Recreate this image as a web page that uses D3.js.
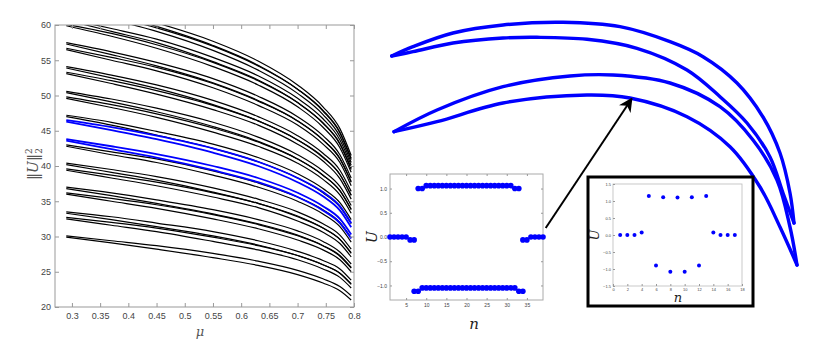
<!DOCTYPE html>
<html>
<head>
<meta charset="utf-8">
<script src="https://cdn.jsdelivr.net/npm/d3@7"></script>
<style>
  body { margin: 0; background: #fff; }
  svg { display: block; font-family: "Liberation Sans", Arial, sans-serif; }
</style>
</head>
<body>
<svg width="830" height="345"></svg>
<script>
// ---- left panel: ||U||^2 against mu ----
const muGrid = [0.29, 0.37, 0.45, 0.55, 0.63, 0.7, 0.745, 0.775, 0.795];

const blackCurves = [
  [30.1, 29.4, 28.7, 27.6, 26.5, 25.2, 24.0, 22.9, 21.6], [29.9, 29.1, 28.2, 27.0, 25.9, 24.6, 23.4, 22.3, 21.0],
  [32.7, 32.0, 31.2, 29.9, 28.7, 27.3, 26.0, 24.8, 23.3], [32.5, 31.6, 30.7, 29.3, 28.1, 26.7, 25.4, 24.2, 22.7],
  [33.5, 32.8, 31.9, 30.7, 29.4, 27.9, 26.6, 25.4, 23.8], [33.3, 32.4, 31.4, 30.1, 28.8, 27.3, 26.0, 24.8, 23.2],
  [36.2, 35.4, 34.5, 33.1, 31.7, 30.1, 28.7, 27.3, 25.6], [36.0, 35.0, 34.0, 32.5, 31.1, 29.5, 28.1, 26.7, 25.0],
  [37.0, 36.2, 35.2, 33.8, 32.4, 30.8, 29.3, 27.8, 26.1], [36.8, 35.8, 34.7, 33.2, 31.8, 30.2, 28.7, 27.2, 25.5],
  [39.6, 38.7, 37.7, 36.2, 34.7, 32.8, 31.2, 29.6, 27.7], [39.4, 38.3, 37.2, 35.6, 34.1, 32.2, 30.6, 29.0, 27.1],
  [40.4, 39.5, 38.5, 36.9, 35.3, 33.5, 31.8, 30.2, 28.2], [40.2, 39.1, 38.0, 36.3, 34.7, 32.9, 31.2, 29.6, 27.6],
  [43.0, 42.0, 41.0, 39.3, 37.6, 35.6, 33.8, 32.0, 29.8], [42.8, 41.6, 40.5, 38.7, 37.0, 35.0, 33.2, 31.4, 29.2],
  [47.2, 46.2, 44.9, 43.1, 41.2, 38.9, 36.8, 34.8, 32.4], [47.0, 45.8, 44.4, 42.5, 40.6, 38.3, 36.2, 34.2, 31.8],
  [49.8, 48.7, 47.4, 45.4, 43.4, 41.0, 38.7, 36.5, 33.9], [49.6, 48.3, 46.9, 44.8, 42.8, 40.4, 38.1, 35.9, 33.3],
  [50.6, 49.5, 48.2, 46.2, 44.1, 41.6, 39.3, 37.1, 34.4], [50.4, 49.1, 47.7, 45.6, 43.5, 41.0, 38.7, 36.5, 33.8],
  [53.3, 52.1, 50.7, 48.6, 46.4, 43.7, 41.3, 38.8, 35.9], [53.1, 51.7, 50.2, 48.0, 45.8, 43.1, 40.7, 38.2, 35.3],
  [54.1, 52.9, 51.5, 49.3, 47.0, 44.3, 41.8, 39.4, 36.4], [53.9, 52.5, 51.0, 48.7, 46.4, 43.7, 41.2, 38.8, 35.8],
  [56.7, 55.4, 54.0, 51.7, 49.2, 46.4, 43.7, 41.1, 37.8], [56.5, 55.0, 53.5, 51.1, 48.6, 45.8, 43.1, 40.5, 37.2],
  [57.5, 56.2, 54.7, 52.4, 49.9, 47.0, 44.3, 41.6, 38.3], [57.3, 55.8, 54.2, 51.8, 49.3, 46.4, 43.7, 41.0, 37.7],
  [60.1, 58.8, 57.2, 54.7, 52.1, 49.0, 46.1, 43.2, 39.7], [59.9, 58.4, 56.7, 54.1, 51.5, 48.4, 45.5, 42.6, 39.1],
  [60.9, 59.5, 58.0, 55.4, 52.8, 49.6, 46.7, 43.7, 40.1], [60.7, 59.1, 57.5, 54.8, 52.2, 49.0, 46.1, 43.1, 39.5],
  [62.6, 61.2, 59.6, 57.0, 54.2, 50.9, 47.9, 44.8, 41.1], [62.4, 60.8, 59.1, 56.4, 53.6, 50.3, 47.3, 44.2, 40.5],
  [63.4, 62.0, 60.3, 57.7, 54.9, 51.5, 48.4, 45.3, 41.5], [63.2, 61.6, 59.8, 57.1, 54.3, 50.9, 47.8, 44.7, 40.9]
];

const blueCurves = [
  [43.8, 42.8, 41.7, 40.0, 38.3, 36.2, 34.3, 32.5, 30.3], [43.6, 42.4, 41.2, 39.4, 37.7, 35.6, 33.7, 31.9, 29.7],
  [46.5, 45.5, 44.3, 42.5, 40.6, 38.3, 36.3, 34.3, 31.9], [46.3, 45.1, 43.8, 41.9, 40.0, 37.7, 35.7, 33.7, 31.3]
];

const muTicks = [0.3, 0.35, 0.4, 0.45, 0.5, 0.55, 0.6, 0.65, 0.7, 0.75, 0.8];
const normTicks = [20, 25, 30, 35, 40, 45, 50, 55, 60];

// ---- inset 1: profile with 39 sites ----
const inset1N = [
  1, 2, 3, 4, 5, 6, 7,
  8, 9, 10, 11, 12, 13, 14, 15, 16, 17, 18, 19, 20, 21, 22, 23, 24, 25, 26, 27, 28, 29, 30, 31, 32, 33,
  7, 8, 9, 10, 11, 12, 13, 14, 15, 16, 17, 18, 19, 20, 21, 22, 23, 24, 25, 26, 27, 28, 29, 30, 31, 32, 33, 34,
  34, 35, 36, 37, 38, 39
];
const inset1U = [
  0, 0, 0, 0, 0, -0.06, -0.06,
  1.0, 1.0, 1.06, 1.06, 1.06, 1.06, 1.06, 1.06, 1.06, 1.06, 1.06, 1.06, 1.06, 1.06, 1.06, 1.06, 1.06, 1.06, 1.06, 1.06, 1.06, 1.06, 1.06, 1.06, 1.0, 1.0,
  -1.12, -1.12, -1.05, -1.05, -1.05, -1.05, -1.05, -1.05, -1.05, -1.05, -1.05, -1.05, -1.05, -1.05, -1.05, -1.05, -1.05, -1.05, -1.05, -1.05, -1.05, -1.05, -1.05, -1.05, -1.05, -1.05, -1.12, -1.12,
  -0.06, -0.06, 0, 0, 0, 0
];
const inset1XTicks = [5, 10, 15, 20, 25, 30, 35];
const inset1YTicks = [-1, -0.5, 0, 0.5, 1];

// ---- inset 2: profile with 17 sites ----
const inset2N = [1, 2, 3, 4, 5, 6, 7, 8, 9, 10, 11, 12, 13, 14, 15, 16, 17];
const inset2U = [0, 0, 0, 0.07, 1.15, -0.9, 1.11, -1.08, 1.1, -1.08, 1.11, -0.9, 1.15, 0.07, 0, 0, 0];
const inset2XTicks = [0, 2, 4, 6, 8, 10, 12, 14, 16, 18];
const inset2YTicks = [-1.5, -1, -0.5, 0, 0.5, 1, 1.5];

// ---- right sketch: two horn-shaped branches (sketch units) ----
const hornTopOuter = [[6.7, 56], [28, 46.7], [68, 33], [118, 25], [178, 22.3], [235, 26.7], [285, 41.7], [318, 56.7], [352, 83], [378, 117], [395, 153], [405, 193], [409, 223]];
const hornTopInner = [[6.7, 56], [28, 51.7], [68, 43], [118, 38], [152, 37.3], [202, 39.3], [252, 48.3], [302, 70], [335, 96.7], [362, 123], [385, 157], [398, 193], [409, 223]];
const hornLowOuter = [[9, 131.7], [52, 110], [118, 86.7], [185, 76], [228, 75], [285, 83], [335, 106.7], [368, 140], [392, 180], [405, 227], [412, 265]];
const hornLowInner = [[9, 131.7], [52, 121.7], [118, 103], [202, 95], [245, 98], [302, 116.7], [345, 146.7], [375, 187], [395, 227], [412, 265]];
const arrowPts = [[160.7, 228], [246.7, 98.7]];

const svg = d3.select("svg");
const gray = "#999", labelGray = "#444";

function styleAxis(g, size) {
  g.select(".domain").remove();
  g.selectAll(".tick line").attr("stroke", gray);
  g.selectAll(".tick text").attr("fill", labelGray).attr("font-size", size);
}

// ================= left panel =================
const x = d3.scaleLinear().domain([0.27, 0.8]).range([55, 354]);
const y = d3.scaleLinear().domain([20, 60]).range([307, 25]);

svg.append("clipPath").attr("id", "clipMain")
  .append("rect").attr("x", 55).attr("y", 25).attr("width", 299).attr("height", 282);

const curveLine = d3.line()
  .x((d, i) => x(muGrid[i]))
  .y(d => y(d))
  .curve(d3.curveMonotoneX);

const plot = svg.append("g").attr("clip-path", "url(#clipMain)");
plot.selectAll("path.blk").data(blackCurves).join("path")
  .attr("class", "blk")
  .attr("d", curveLine)
  .attr("fill", "none")
  .attr("stroke", "#000")
  .attr("stroke-width", 1.2);
plot.selectAll("path.blu").data(blueCurves).join("path")
  .attr("class", "blu")
  .attr("d", curveLine)
  .attr("fill", "none")
  .attr("stroke", "#0000ff")
  .attr("stroke-width", 1.8);

svg.append("rect").attr("x", 55).attr("y", 25).attr("width", 299).attr("height", 282)
  .attr("fill", "none").attr("stroke", gray).attr("stroke-width", 1);

svg.append("g").attr("transform", "translate(0,307)")
  .call(d3.axisBottom(x).tickValues(muTicks).tickFormat(d => String(d)).tickSizeInner(-4).tickSizeOuter(0).tickPadding(6))
  .call(g => styleAxis(g, 9));
svg.append("g").attr("transform", "translate(0,25)")
  .call(d3.axisTop(x).tickValues(muTicks).tickFormat("").tickSizeInner(-4).tickSizeOuter(0))
  .call(g => styleAxis(g, 9));
svg.append("g").attr("transform", "translate(55,0)")
  .call(d3.axisLeft(y).tickValues(normTicks).tickSizeInner(-4).tickSizeOuter(0).tickPadding(4))
  .call(g => styleAxis(g, 9));
svg.append("g").attr("transform", "translate(354,0)")
  .call(d3.axisRight(y).tickValues(normTicks).tickFormat("").tickSizeInner(-4).tickSizeOuter(0))
  .call(g => styleAxis(g, 9));

const yl = svg.append("text")
  .attr("transform", "translate(38,164) rotate(-90)")
  .attr("text-anchor", "middle")
  .attr("font-family", "DejaVu Serif, serif")
  .attr("font-size", 14)
  .attr("fill", "#555");
yl.append("tspan").text("\u2016");
yl.append("tspan").attr("font-style", "italic").text("U");
yl.append("tspan").text("\u2016");
yl.append("tspan").attr("font-size", 9).attr("dy", -6).text("2");
yl.append("tspan").attr("font-size", 9).attr("dx", -5.5).attr("dy", 10).text("2");

svg.append("text").attr("x", 200).attr("y", 336)
  .attr("text-anchor", "middle")
  .attr("font-family", "DejaVu Serif, serif")
  .attr("font-style", "italic")
  .attr("font-size", 13)
  .attr("fill", "#555")
  .text("\u03bc");

// ================= right sketch =================
const hx = d3.scaleLinear().domain([0, 420]).range([385, 805]);
const hy = d3.scaleLinear().domain([0, 280]).range([0, 280]);
const hornLine = d3.line().x(d => hx(d[0])).y(d => hy(d[1])).curve(d3.curveCatmullRom.alpha(0.5));

svg.append("g").selectAll("path").data([hornTopOuter, hornTopInner, hornLowOuter, hornLowInner]).join("path")
  .attr("d", hornLine)
  .attr("fill", "none")
  .attr("stroke", "#0000ff")
  .attr("stroke-width", 3.4)
  .attr("stroke-linecap", "round")
  .attr("stroke-linejoin", "round");

svg.append("defs").append("marker")
  .attr("id", "arrowHead")
  .attr("viewBox", "0 0 10 10")
  .attr("refX", 9).attr("refY", 5)
  .attr("markerWidth", 7).attr("markerHeight", 7)
  .attr("orient", "auto")
  .append("path").attr("d", "M0,0 L10,5 L0,10 L3,5 Z").attr("fill", "#000");

svg.append("path")
  .attr("d", d3.line().x(d => hx(d[0])).y(d => hy(d[1]))(arrowPts))
  .attr("stroke", "#000")
  .attr("stroke-width", 2)
  .attr("fill", "none")
  .attr("marker-end", "url(#arrowHead)");

// ================= inset 1 =================
const ix1 = d3.scaleLinear().domain([1, 39]).range([390, 543]);
const iy1 = d3.scaleLinear().domain([-1.3, 1.3]).range([300, 174]);

svg.append("rect").attr("x", 390).attr("y", 174).attr("width", 153).attr("height", 126)
  .attr("fill", "#fff").attr("stroke", "#aaa").attr("stroke-width", 1);
svg.append("g").attr("transform", "translate(0,300)")
  .call(d3.axisBottom(ix1).tickValues(inset1XTicks).tickSizeInner(-2).tickSizeOuter(0).tickPadding(3))
  .call(g => styleAxis(g, 5));
svg.append("g").attr("transform", "translate(0,174)")
  .call(d3.axisTop(ix1).tickValues(inset1XTicks).tickFormat("").tickSizeInner(-2).tickSizeOuter(0))
  .call(g => styleAxis(g, 5));
svg.append("g").attr("transform", "translate(390,0)")
  .call(d3.axisLeft(iy1).tickValues(inset1YTicks).tickSizeInner(-2).tickSizeOuter(0).tickPadding(3))
  .call(g => styleAxis(g, 5));
svg.append("g").attr("transform", "translate(543,0)")
  .call(d3.axisRight(iy1).tickValues(inset1YTicks).tickFormat("").tickSizeInner(-2).tickSizeOuter(0))
  .call(g => styleAxis(g, 5));

svg.append("g").selectAll("circle").data(inset1N).join("circle")
  .attr("cx", d => ix1(d))
  .attr("cy", (d, i) => iy1(inset1U[i]))
  .attr("r", 2.8)
  .attr("fill", "#0000ff");

svg.append("text")
  .attr("transform", "translate(377,237) rotate(-90)")
  .attr("text-anchor", "middle")
  .attr("font-family", "DejaVu Serif, serif")
  .attr("font-style", "italic")
  .attr("font-size", 14)
  .attr("fill", "#222")
  .text("U");
svg.append("text").attr("x", 474).attr("y", 329)
  .attr("text-anchor", "middle")
  .attr("font-family", "DejaVu Serif, serif")
  .attr("font-style", "italic")
  .attr("font-size", 15)
  .attr("fill", "#222")
  .text("n");

// ================= inset 2 =================
const ix2 = d3.scaleLinear().domain([0, 18]).range([613, 742]);
const iy2 = d3.scaleLinear().domain([-1.5, 1.5]).range([286, 184]);

svg.append("rect").attr("x", 588).attr("y", 177).attr("width", 165).attr("height", 129)
  .attr("fill", "#fff").attr("stroke", "#000").attr("stroke-width", 3);
svg.append("rect").attr("x", 613).attr("y", 184).attr("width", 129).attr("height", 102)
  .attr("fill", "none").attr("stroke", "#bbb").attr("stroke-width", 0.8);
svg.append("g").attr("transform", "translate(0,286)")
  .call(d3.axisBottom(ix2).tickValues(inset2XTicks).tickSizeInner(-2).tickSizeOuter(0).tickPadding(2))
  .call(g => styleAxis(g, 4));
svg.append("g").attr("transform", "translate(613,0)")
  .call(d3.axisLeft(iy2).tickValues(inset2YTicks).tickSizeInner(-2).tickSizeOuter(0).tickPadding(2))
  .call(g => styleAxis(g, 4));

svg.append("g").selectAll("circle").data(inset2N).join("circle")
  .attr("cx", d => ix2(d))
  .attr("cy", (d, i) => iy2(inset2U[i]))
  .attr("r", 2)
  .attr("fill", "#0000ff");

svg.append("text")
  .attr("transform", "translate(599,235) rotate(-90)")
  .attr("text-anchor", "middle")
  .attr("font-family", "DejaVu Serif, serif")
  .attr("font-style", "italic")
  .attr("font-size", 13)
  .attr("fill", "#222")
  .text("U");
svg.append("text").attr("x", 678).attr("y", 302)
  .attr("text-anchor", "middle")
  .attr("font-family", "DejaVu Serif, serif")
  .attr("font-style", "italic")
  .attr("font-size", 13)
  .attr("fill", "#222")
  .text("n");
</script>
</body>
</html>
